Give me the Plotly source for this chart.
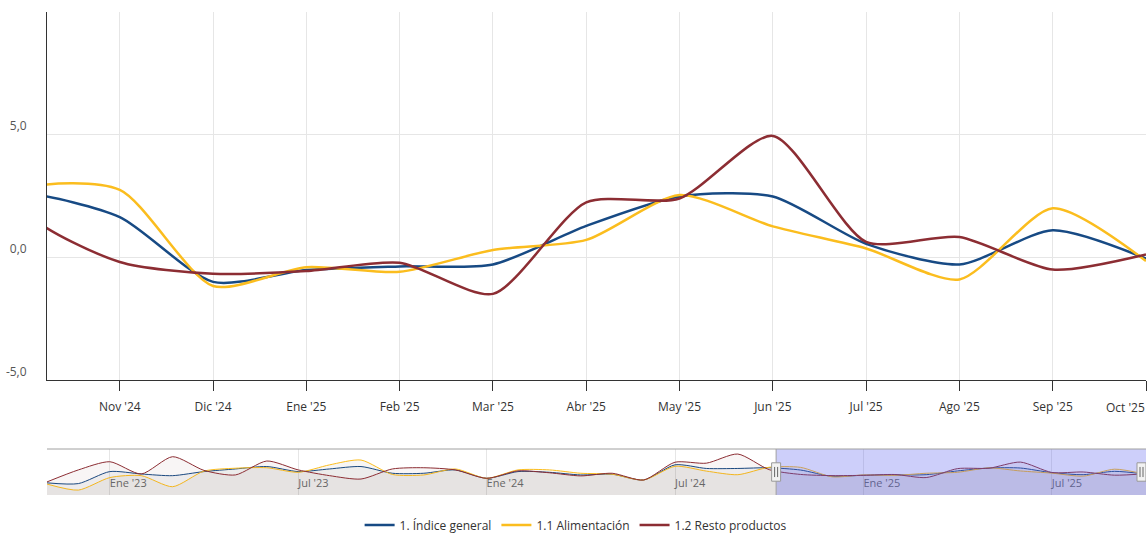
import plotly.graph_objects as go

months = ["Nov '22", "Dic '22", "Ene '23", "Feb '23", "Mar '23", "Abr '23", "May '23", "Jun '23",
          "Jul '23", "Ago '23", "Sep '23", "Oct '23", "Nov '23", "Dic '23", "Ene '24", "Feb '24",
          "Mar '24", "Abr '24", "May '24", "Jun '24", "Jul '24", "Ago '24", "Sep '24", "Oct '24",
          "Nov '24", "Dic '24", "Ene '25", "Feb '25", "Mar '25", "Abr '25", "May '25", "Jun '25",
          "Jul '25", "Ago '25", "Sep '25", "Oct '25"]

indice_general = [-3.7, -4.0, 1.0, 0.0, -0.7, 1.0, 2.1, 3.1, 1.0, 2.1, 3.1, 0.3,
                  0.3, 1.7, -1.8, 1.0, 0.7, -0.4, -0.1, -2.5, 3.8, 2.3, 2.3, 2.6,
                  1.64, -1.0, -0.52, -0.37, -0.29, 1.28, 2.48, 2.48, 0.55, -0.29, 1.1, -0.05]

alimentacion = [-4.2, -6.7, -1.5, -0.7, -5.3, 1.2, 2.4, 2.6, 0.7, 3.8, 5.8, -0.2,
                -0.4, 2.1, -1.8, 1.7, 1.7, 0.3, -0.1, -2.5, 3.2, 1.2, -0.3, 2.8,
                2.75, -1.17, -0.4, -0.59, 0.3, 0.71, 2.54, 1.26, 0.36, -0.9, 2.0, -0.15]

resto_productos = [-3.3, 1.7, 5.1, 0.0, 7.2, 1.5, -0.4, 5.4, 1.7, -0.7, -2.1, 2.1,
                   2.6, 1.7, -1.8, 1.3, 0.5, -0.8, 0.3, -2.5, 4.9, 4.5, 8.3, 1.8,
                   -0.19, -0.67, -0.56, -0.22, -1.49, 2.24, 2.4, 4.95, 0.63, 0.83, -0.5, 0.12]

series_names = ["1. Índice general", "1.1 Alimentación", "1.2 Resto productos"]
series_colors = ["#174a84", "#fbbd1e", "#8c2d33"]
nav_fills = ["rgba(40,50,80,0.05)", "rgba(90,80,40,0.05)", "rgba(120,50,50,0.05)"]

y_ticks = [-5, 0, 5, 10]
y_labels = ["-5,0", "0,0", "5,0", ""]
nav_ticks = ["Ene '23", "Jul '23", "Ene '24", "Jul '24", "Ene '25", "Jul '25"]
main_tick_text = months[:-1] + [""]
last_label = months[-1]

nav_min, nav_max = -8.75, 10.4
view_start, view_end = 23.22, 35.0
SMOOTH = 0.7

fig = go.Figure()
all_series = [indice_general, alimentacion, resto_productos]

for name, vals, color in zip(series_names, all_series, series_colors):
    fig.add_trace(go.Scatter(x=months, y=vals, mode="lines", name=name,
                             line=dict(color=color, width=2.5, shape="spline", smoothing=SMOOTH),
                             xaxis="x", yaxis="y"))

for name, vals, color, fc in zip(series_names, all_series, series_colors, nav_fills):
    fig.add_trace(go.Scatter(x=months, y=[nav_min] * len(months), mode="lines",
                             line=dict(width=0), showlegend=False, hoverinfo="skip",
                             xaxis="x2", yaxis="y2"))
    fig.add_trace(go.Scatter(x=months, y=vals, mode="lines", fill="tonexty", fillcolor=fc,
                             line=dict(color=color, width=1, shape="spline", smoothing=SMOOTH),
                             showlegend=False, hoverinfo="skip", xaxis="x2", yaxis="y2"))

H_TOP, H_BOT = 12, 495
ph = H_BOT - H_TOP
main_bottom = (H_BOT - 380) / ph
nav_top = (H_BOT - 449) / ph

shapes = []
shapes.append(dict(type="rect", xref="x2", yref="y2 domain", x0=view_start, x1=view_end, y0=0, y1=1,
                   fillcolor="rgba(90,95,240,0.3)", line=dict(width=0), layer="above"))
shapes.append(dict(type="line", xref="x2 domain", yref="y2 domain", x0=0, x1=1, y0=1, y1=1,
                   line=dict(color="#a0a0a0", width=1), layer="above"))
shapes.append(dict(type="line", xref="x2", yref="y2 domain", x0=view_start, x1=view_start, y0=0, y1=1,
                   line=dict(color="#a0a0a0", width=1), layer="above"))
px_per_month = 1099 / 35.0
hw = 4.5 / px_per_month
for cx in [view_start, view_end - 4.5 / px_per_month]:
    shapes.append(dict(type="rect", xref="x2", yref="y2 domain", x0=cx - hw, x1=cx + hw,
                       y0=0.30, y1=0.70, fillcolor="#f2f2f2", line=dict(color="#999999", width=1),
                       layer="above"))
    for dx in (-1.5, 1.5):
        xx = cx + dx / px_per_month
        shapes.append(dict(type="line", xref="x2", yref="y2 domain", x0=xx, x1=xx, y0=0.39, y1=0.61,
                           line=dict(color="#666666", width=1), layer="above"))

annotations = [dict(text=last_label, xref="paper", yref="paper", x=1.001, xanchor="right",
                    y=main_bottom, yanchor="top", yshift=-17, showarrow=False,
                    font=dict(size=12, color="#333333"))]

fig.update_layout(
    width=1148, height=534,
    margin=dict(l=47, r=2, t=H_TOP, b=534 - H_BOT, autoexpand=False),
    paper_bgcolor="white", plot_bgcolor="white",
    font=dict(family="Open Sans, sans-serif", color="#333333", size=12),
    showlegend=True,
    legend=dict(orientation="h", x=0.481, xanchor="center", y=(H_BOT - 525) / ph, yanchor="middle",
                font=dict(size=12, color="#333333"), itemwidth=30, traceorder="normal"),
    xaxis=dict(domain=[0, 1], anchor="y", type="category", categoryorder="array", categoryarray=months,
               range=[view_start, view_end], showgrid=True, gridcolor="#e6e6e6", gridwidth=1,
               tickmode="array", tickvals=months, ticktext=main_tick_text,
               ticks="outside", ticklen=10, tickcolor="#333333", tickwidth=1,
               showline=True, linecolor="#333333", linewidth=1, automargin=False,
               tickfont=dict(size=12, color="#333333"), ticklabelstandoff=6, fixedrange=True),
    yaxis=dict(domain=[main_bottom, 1], anchor="x", range=[-5, 10], tickvals=y_ticks, ticktext=y_labels,
               showgrid=True, gridcolor="#e6e6e6", zeroline=False, showline=True, linecolor="#333333",
               linewidth=1, ticks="", ticklabelposition="outside top", ticklabelstandoff=17,
               automargin=False, tickfont=dict(size=12, color="#555555"), fixedrange=True),
    xaxis2=dict(domain=[0, 1], anchor="y2", type="category", categoryorder="array", categoryarray=months,
                range=[0, 35], tickvals=nav_ticks, ticktext=nav_ticks, ticks="",
                ticklabelposition="inside right", showgrid=True, gridcolor="#e6e6e6", automargin=False,
                showline=False, tickfont=dict(size=11, color="#666666"), fixedrange=True),
    yaxis2=dict(domain=[0, nav_top], anchor="x2", range=[nav_min, nav_max], visible=False,
                fixedrange=True),
    shapes=shapes,
    annotations=annotations,
)

fig.write_html("out.html", config={"displayModeBar": False},
               post_script="document.body.style.margin='0';document.body.style.overflow='hidden';")
